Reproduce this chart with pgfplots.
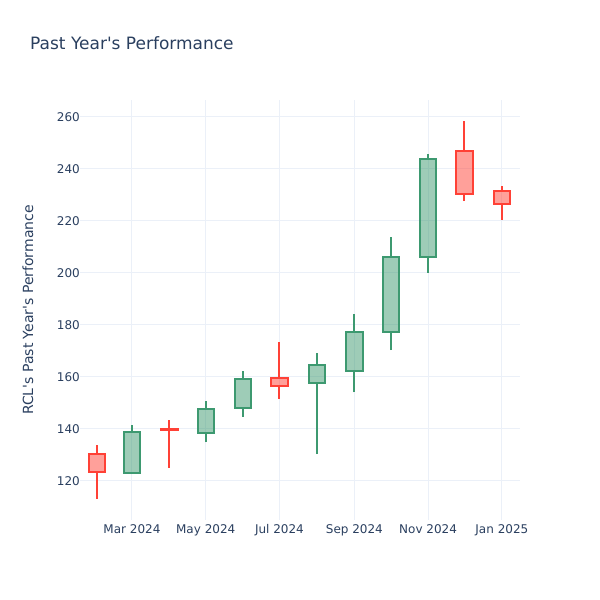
\documentclass[border=0pt]{standalone}
\usepackage{pgfplots}
\pgfplotsset{compat=1.18}
\usepackage{fontspec}
\setmainfont{DejaVu Sans}
\definecolor{txt}{HTML}{2A3F5F}
\definecolor{gridc}{HTML}{EBF0F8}
\definecolor{up}{HTML}{3D9970}
\definecolor{down}{HTML}{FF4136}
% candle: x, open, high, low, close, colour
\newcommand{\candle}[6]{%
  \pgfmathsetmacro{\cBot}{min(#2,#5)}%
  \pgfmathsetmacro{\cTop}{max(#2,#5)}%
  \pgfmathsetmacro{\cXL}{#1-6.75}%
  \pgfmathsetmacro{\cXR}{#1+6.75}%
  \edef\cTemp{%
    \noexpand\addplot[draw=#6, line width=2pt] coordinates {(#1,\cTop) (#1,#3)};
    \noexpand\addplot[draw=#6, line width=2pt] coordinates {(#1,#4) (#1,\cBot)};
    \noexpand\addplot[draw=#6, fill=#6, fill opacity=0.5, line width=2pt, line join=miter]
      coordinates {(\cXL,\cBot) (\cXR,\cBot) (\cXR,\cTop) (\cXL,\cTop)} -- cycle;
  }\cTemp
}
\begin{document}
\begin{tikzpicture}
\path[use as bounding box] (0,0) rectangle (600pt,600pt);
\node[anchor=base west, font=\fontsize{17}{20}\selectfont, text=txt, inner sep=0pt] at (30pt,550pt) {Past Year\textquotesingle s Performance};
\begin{axis}[
  at={(80pt,80pt)}, anchor=south west,
  scale only axis, width=440pt, height=420pt,
  xmin=17, xmax=381, ymin=105, ymax=266.5,
  xtick={60,121,182,244,305,366},
  xticklabels={Mar 2024,May 2024,Jul 2024,Sep 2024,Nov 2024,Jan 2025},
  ytick={120,140,...,260},
  major tick length=0pt,
  grid=major, major grid style={gridc, line width=1pt},
  axis line style={draw=none},
  tick label style={font=\fontsize{12}{14}\selectfont, text=txt},
  /pgf/number format/assume math mode=true,
  yticklabel style={inner sep=0pt, xshift=0pt},
  xticklabel style={inner sep=0pt, yshift=-4pt},
  ylabel={RCL\textquotesingle s Past Year\textquotesingle s Performance},
  every axis y label/.style={at={(axis description cs:0,0.5)}, xshift=-52pt, rotate=90, anchor=center, font=\fontsize{14}{16}\selectfont, text=txt},
  clip=false,
]
\candle{31}{130.3}{133.7}{113.2}{123.3}{down}
\candle{60}{123.2}{141.5}{122.6}{139.0}{up}
\candle{91}{140.1}{143.5}{125.1}{139.7}{down}
\candle{121}{138.6}{150.9}{134.9}{147.6}{up}
\candle{152}{148.2}{162.4}{144.7}{159.4}{up}
\candle{182}{159.7}{173.3}{151.7}{156.7}{down}
\candle{213}{157.6}{169.4}{130.3}{164.6}{up}
\candle{244}{162.3}{184.3}{154.1}{177.4}{up}
\candle{274}{177.3}{214.0}{170.3}{206.3}{up}
\candle{305}{206.3}{245.6}{200.1}{244.0}{up}
\candle{335}{246.8}{258.5}{227.6}{230.5}{down}
\candle{366}{231.5}{233.3}{220.5}{226.7}{down}
\end{axis}
\end{tikzpicture}
\end{document}
